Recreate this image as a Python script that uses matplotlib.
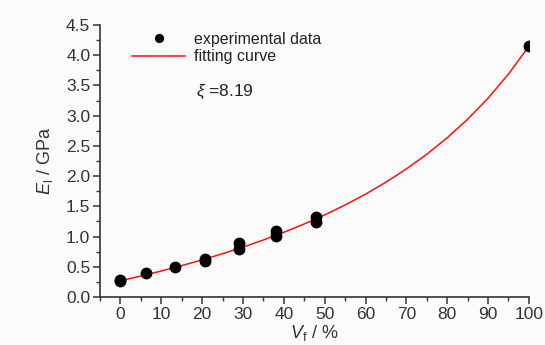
import matplotlib.pyplot as plt
from matplotlib.ticker import MultipleLocator

# experimental points (V_f in %, E_l in GPa)
vf_exp = [0, 0, 6.3, 13.3, 20.8, 20.8, 29.1, 29.1, 38.0, 38.0, 47.9, 47.9, 100]
el_exp = [0.26, 0.28, 0.39, 0.49, 0.59, 0.63, 0.79, 0.90, 1.01, 1.09, 1.24, 1.32, 4.15]

# fitting curve
vf_fit = [0, 5, 10, 15, 20, 25, 30, 35, 40, 45, 50,
          55, 60, 65, 70, 75, 80, 85, 90, 95, 100]
el_fit = [0.270, 0.348, 0.431, 0.520, 0.615, 0.717, 0.826, 0.944, 1.071, 1.209, 1.359,
          1.523, 1.702, 1.900, 2.119, 2.363, 2.635, 2.942, 3.290, 3.689, 4.151]

plt.rcParams['font.family'] = ['Liberation Sans', 'DejaVu Sans']
plt.rcParams['mathtext.fontset'] = 'custom'
plt.rcParams['mathtext.rm'] = 'Liberation Sans'
plt.rcParams['mathtext.it'] = 'Liberation Sans:italic'

fig = plt.figure(figsize=(5.45, 3.45), dpi=100, facecolor='#fbfbfb')
ax = fig.add_axes([0.1835, 0.139, 0.787, 0.7885])
ax.set_facecolor('#fbfbfb')

ax.plot(vf_fit, el_fit, color='#ff1010', lw=1.1, label='fitting curve', zorder=2)
ax.plot(vf_exp, el_exp, 'o', color='black', ms=7.5, label='experimental data', zorder=3)

ax.set_xlim(-5, 100)
ax.set_ylim(0, 4.5)
ax.xaxis.set_major_locator(MultipleLocator(10))
ax.xaxis.set_minor_locator(MultipleLocator(5))
ax.yaxis.set_major_locator(MultipleLocator(0.5))
ax.yaxis.set_minor_locator(MultipleLocator(0.25))
ax.yaxis.set_major_formatter(plt.FormatStrFormatter('%.1f'))

for s in ['top', 'right']:
    ax.spines[s].set_visible(False)
for s in ['left', 'bottom']:
    ax.spines[s].set_color('#333333')
    ax.spines[s].set_linewidth(1.2)

ax.tick_params(which='major', direction='out', length=5, width=1.1, color='#333333',
               labelsize=12.5, labelcolor='#333333', pad=2)
ax.tick_params(which='minor', direction='out', length=3, width=1.0, color='#333333')

ax.set_xlabel('$V_\\mathrm{f}$ / %', fontsize=13, color='#333333', labelpad=1)
ax.set_ylabel('$E_\\mathrm{l}$ / GPa', fontsize=13, color='#333333', labelpad=8)

h, l = ax.get_legend_handles_labels()
leg = ax.legend(h[::-1], l[::-1], loc='upper left', bbox_to_anchor=(0.075, 0.975),
                frameon=False, fontsize=11.5, handlelength=3.3, handletextpad=0.6,
                labelspacing=0.15, borderpad=0, borderaxespad=0, markerscale=0.75)
for t in leg.get_texts():
    t.set_color('#222222')

ax.text(0.224, 0.755, '$\\xi$ =8.19', transform=ax.transAxes, fontsize=12.5,
        color='#222222', va='center', ha='left')

fig.savefig('out.png', dpi=100, facecolor=fig.get_facecolor())
